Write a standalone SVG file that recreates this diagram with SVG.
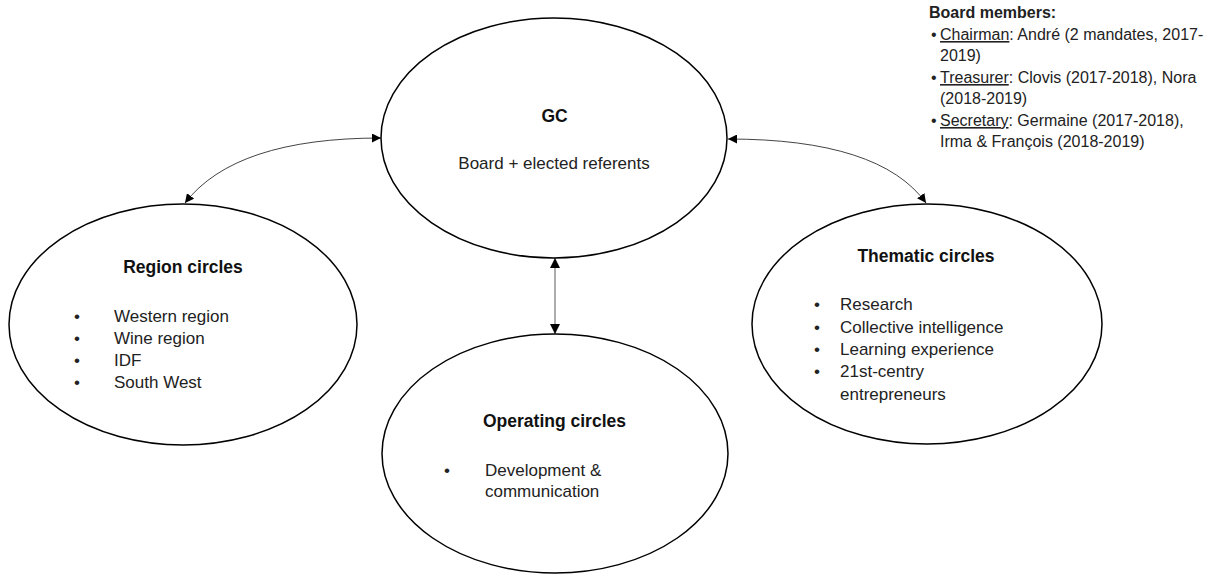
<svg xmlns="http://www.w3.org/2000/svg" width="1211" height="575" viewBox="0 0 1211 575">
<defs>
<style>
.node{fill:#fff;stroke:#000;stroke-width:1.5}
.t{font-family:"Liberation Sans",Arial,sans-serif;fill:#222}
.title{font-size:17.5px;font-weight:bold;text-anchor:middle;fill:#111}
.body{font-size:17px}
.board{font-size:16px}
.conn{fill:none;stroke:#444;stroke-width:1}
.vert{fill:none;stroke:#999;stroke-width:1.6}
</style>
<marker id="ah" viewBox="0 0 10 10" refX="10" refY="5" markerWidth="9" markerHeight="9" markerUnits="userSpaceOnUse" orient="auto-start-reverse">
<path d="M0,0 L10,5 L0,10 z" fill="#000"/>
</marker>
<marker id="ahv" viewBox="0 0 10 10" refX="10" refY="5" markerWidth="10" markerHeight="10" markerUnits="userSpaceOnUse" orient="auto-start-reverse">
<path d="M0,0 L10,5 L0,10 z" fill="#000"/>
</marker>
</defs>
<rect width="1211" height="575" fill="#fff"/>

<g id="connectors">
<path class="conn" d="M381,138 Q235,138 185,203" marker-start="url(#ah)" marker-end="url(#ah)"/>
<path class="conn" d="M728,139 Q880,139 926,203" marker-start="url(#ah)" marker-end="url(#ah)"/>
<path class="vert" d="M555,258 L555,334" marker-start="url(#ahv)" marker-end="url(#ahv)"/>
</g>

<g id="gc">
<ellipse class="node" cx="554" cy="138" rx="173" ry="120"/>
<text class="t title" x="554.5" y="122">GC</text>
<text class="t body" x="554" y="169" text-anchor="middle">Board + elected referents</text>
</g>

<g id="region-circles">
<ellipse class="node" cx="183" cy="324.5" rx="174" ry="120.5"/>
<text class="t title" x="183" y="273">Region circles</text>
<text class="t body" x="74" y="322">•</text><text class="t body" x="114" y="322">Western region</text>
<text class="t body" x="74" y="344">•</text><text class="t body" x="114" y="344">Wine region</text>
<text class="t body" x="74" y="366">•</text><text class="t body" x="114" y="366">IDF</text>
<text class="t body" x="74" y="388">•</text><text class="t body" x="114" y="388">South West</text>
</g>

<g id="thematic-circles">
<ellipse class="node" cx="927" cy="324" rx="175" ry="120"/>
<text class="t title" x="926" y="262">Thematic circles</text>
<text class="t body" x="814" y="310">•</text><text class="t body" x="840" y="310">Research</text>
<text class="t body" x="814" y="333">•</text><text class="t body" x="840" y="333">Collective intelligence</text>
<text class="t body" x="814" y="355">•</text><text class="t body" x="840" y="355">Learning experience</text>
<text class="t body" x="814" y="377">•</text><text class="t body" x="840" y="377">21st-centry</text>
<text class="t body" x="840" y="400">entrepreneurs</text>
</g>

<g id="operating-circles">
<ellipse class="node" cx="555" cy="453.5" rx="173" ry="119.5"/>
<text class="t title" x="554.5" y="427">Operating circles</text>
<text class="t body" x="444" y="476">•</text><text class="t body" x="485" y="476">Development &amp;</text>
<text class="t body" x="485" y="497">communication</text>
</g>

<g id="board-members">
<text class="t board" x="929" y="18" font-weight="bold" fill="#111">Board members:</text>
<text class="t board" x="931" y="40">•</text><text class="t board" x="940" y="40"><tspan text-decoration="underline">Chairman</tspan>: André (2 mandates, 2017-</text>
<text class="t board" x="940" y="61">2019)</text>
<text class="t board" x="931" y="83">•</text><text class="t board" x="940" y="83"><tspan text-decoration="underline">Treasurer</tspan>: Clovis (2017-2018), Nora</text>
<text class="t board" x="940" y="104">(2018-2019)</text>
<text class="t board" x="931" y="126">•</text><text class="t board" x="940" y="126"><tspan text-decoration="underline">Secretary</tspan>: Germaine (2017-2018),</text>
<text class="t board" x="940" y="147">Irma &amp; François (2018-2019)</text>
</g>
</svg>
